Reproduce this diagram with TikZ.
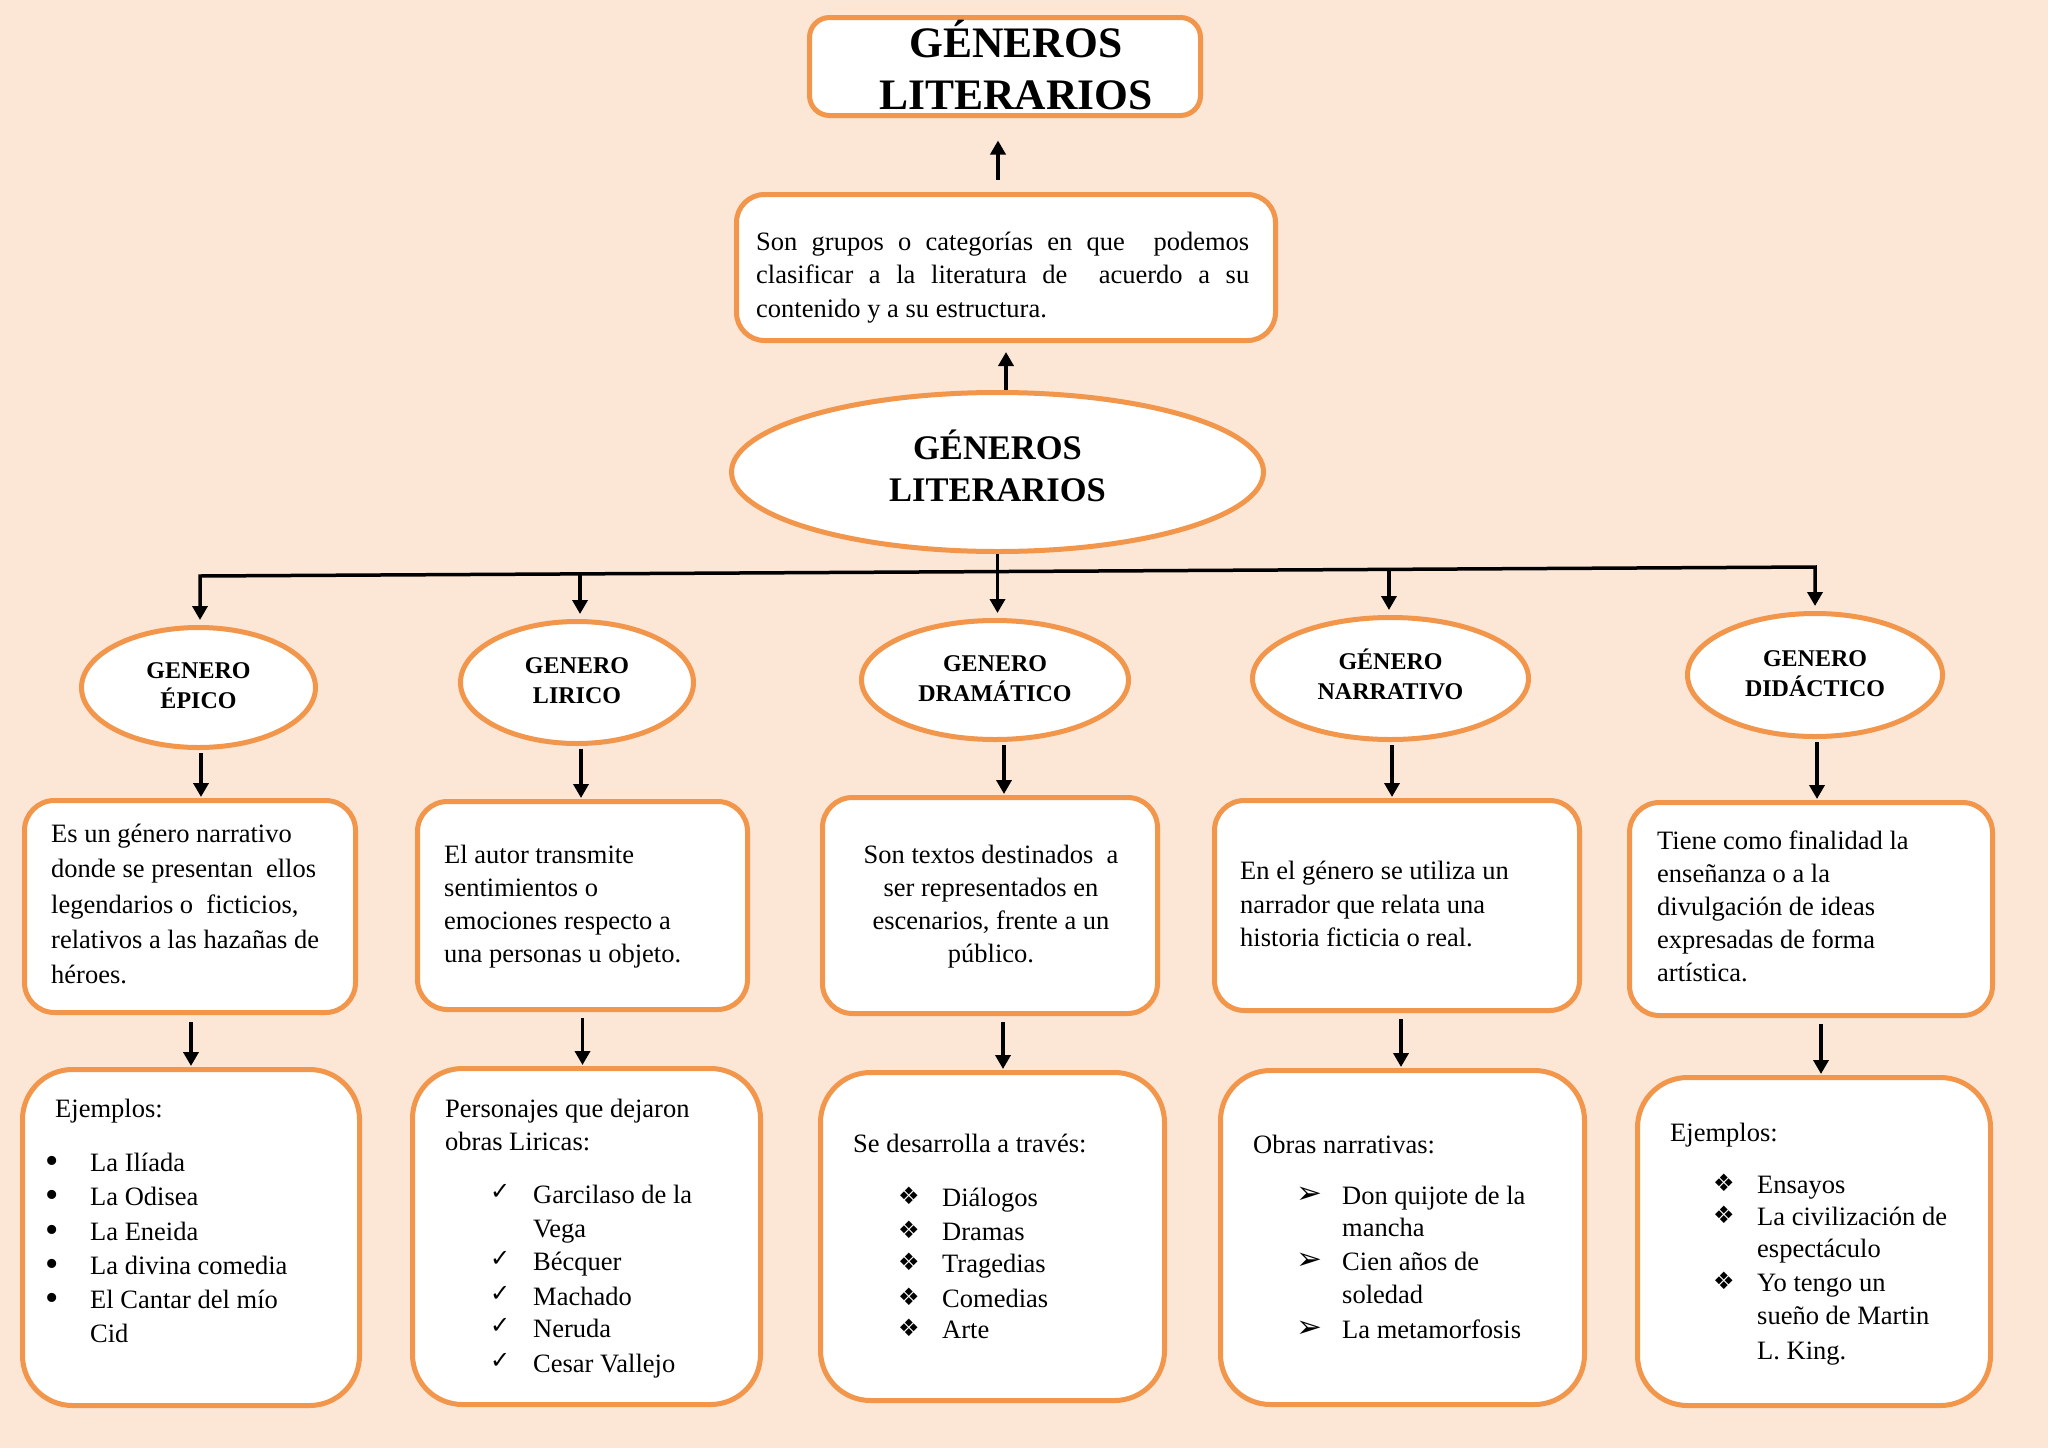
\documentclass[tikz,border=0pt]{standalone}
\usepackage{fontspec}
\setmainfont{Liberation Serif}
\newfontfamily\gsym{DejaVu Sans}
\usetikzlibrary{shapes.geometric,arrows.meta,calc}
\definecolor{bgc}{RGB}{252,230,214}
\definecolor{orng}{RGB}{241,150,75}
\begin{document}
\begin{tikzpicture}[x=1pt,y=-1pt,
  gshape/.style={draw=orng,line width=5pt,fill=white,inner sep=0pt},
  gtop/.style={gshape,rounded corners=20pt},
  gdesc/.style={gshape,rounded corners=30pt},
  gex/.style={gshape,rounded corners=50pt},
  goval/.style={gshape,ellipse,align=center,font=\fontsize{24}{30}\selectfont\bfseries},
  gbigoval/.style={gshape,ellipse,align=center,font=\fontsize{34.5}{42}\selectfont\bfseries},
  gtxt/.style={anchor=base west,inner sep=0pt,font=\fontsize{26.5}{33}\selectfont},
  gctxt/.style={gtxt,anchor=base},
  gttl/.style={anchor=base,inner sep=0pt,font=\fontsize{43.5}{52}\selectfont\bfseries},
  gbul/.style={anchor=base west,inner sep=0pt,font=\gsym\fontsize{24}{28}\selectfont},
  garrowbul/.style={anchor=base west,inner sep=0pt,font=\gsym\fontsize{31}{34}\selectfont},
  gdot/.style={anchor=base,inner sep=0pt,font=\fontsize{38}{40}\selectfont},
  gtip/.style={line width=3.5pt},
  garr/.style={gtip,-{Triangle[length=14pt,width=15pt]}},
]
\useasboundingbox (0,0) rectangle (2048,1448);
\fill[bgc] (0,0) rectangle (2048,1448);

% ---------- top ----------
\node[gtop,minimum width=391pt,minimum height=98pt] (top) at (1005,66.5) {};
\node[gttl] (top1) at (1016,57) {GÉNEROS};
\node[gttl] (top2) at (1016,109) {LITERARIOS};

\node[gdesc,rounded corners=28pt,minimum width=539pt,minimum height=146pt] (def) at (1006,267.5) {};
\node[gtxt] (def1) at (756,250) {\makebox[493pt][s]{Son grupos o categorías en que\ \ podemos}};
\node[gtxt] (def2) at (756,283) {\makebox[493pt][s]{clasificar a la literatura de\ \ acuerdo a su}};
\node[gtxt] (def3) at (756,317) {contenido y a su estructura.};

\node[gbigoval,minimum width=532pt,minimum height=159pt] (main) at (997.5,472) {\strut GÉNEROS\\\strut LITERARIOS};

% ---------- genre ellipses ----------
\node[goval,minimum width=234pt,minimum height=120pt] (ep) at (198.5,687.5) {\strut GENERO\\\strut ÉPICO};
\node[goval,minimum width=233pt,minimum height=122pt] (li) at (577,682.5) {\strut GENERO\\\strut LIRICO};
\node[goval,minimum width=267pt,minimum height=119pt] (dr) at (995,680) {\strut GENERO\\\strut DRAMÁTICO};
\node[goval,minimum width=276pt,minimum height=122pt] (na) at (1390.5,678.5) {\strut GÉNERO\\\strut NARRATIVO};
\node[goval,minimum width=255pt,minimum height=123pt] (di) at (1815,675) {\strut GENERO\\\strut DIDÁCTICO};

% ---------- description boxes ----------
\node[gdesc,minimum width=331pt,minimum height=212pt] (epd) at (190,906.5) {};
\node[gdesc,minimum width=330pt,minimum height=208pt] (lid) at (582.5,905.5) {};
\node[gdesc,minimum width=335pt,minimum height=216pt] (drd) at (990,905.5) {};
\node[gdesc,minimum width=365pt,minimum height=210pt] (nad) at (1397,905.5) {};
\node[gdesc,minimum width=363pt,minimum height=213pt] (did) at (1811,909) {};

\foreach \yy/\tx [count=\i] in {842/{Es un género narrativo}, 877/{donde se presentan\ \ ellos}, 913/{legendarios o\ \ ficticios,}, 948/{relativos a las hazañas de}, 983/{héroes.}}
  \node[gtxt] (epdt\i) at (51,\yy) {\tx};
\foreach \yy/\tx [count=\i] in {863/{El autor transmite}, 896/{sentimientos o}, 929/{emociones respecto a}, 962/{una personas u objeto.}}
  \node[gtxt] (lidt\i) at (444,\yy) {\tx};
\foreach \yy/\tx [count=\i] in {863/{Son textos destinados\ \ a}, 896/{ser representados en}, 929/{escenarios, frente a un}, 962/{público.}}
  \node[gctxt] (drdt\i) at (991,\yy) {\tx};
\foreach \yy/\tx [count=\i] in {879/{En el género se utiliza un}, 913/{narrador que relata una}, 946/{historia ficticia o real.}}
  \node[gtxt] (nadt\i) at (1240,\yy) {\tx};
\foreach \yy/\tx [count=\i] in {849/{Tiene como finalidad la}, 882/{enseñanza o a la}, 915/{divulgación de ideas}, 948/{expresadas de forma}, 981/{artística.}}
  \node[gtxt] (didt\i) at (1657,\yy) {\tx};

% ---------- example boxes ----------
\node[gex,minimum width=337pt,minimum height=336pt] (epx) at (191,1237.5) {};
\node[gex,minimum width=348pt,minimum height=336pt] (lix) at (586.5,1236.5) {};
\node[gex,minimum width=344pt,minimum height=328pt] (drx) at (992.5,1236.5) {};
\node[gex,minimum width=364pt,minimum height=334pt] (nax) at (1402.5,1237.5) {};
\node[gex,minimum width=353pt,minimum height=328pt] (dix) at (1814,1241.5) {};

% epico examples
\node[gtxt] (epxh) at (55,1117) {Ejemplos:};
\foreach \yy/\tx [count=\i] in {1171/{La Ilíada}, 1205/{La Odisea}, 1240/{La Eneida}, 1274/{La divina comedia}, 1308/{El Cantar del mío}, 1342/{Cid}}
  \node[gtxt] (epxt\i) at (90,\yy) {\tx};
\foreach \yy [count=\i] in {1171,1205,1240,1274,1308}
  \node[gdot] (epxb\i) at (52,\yy+2) {•};

% lirico examples
\node[gtxt] (lixh1) at (445,1117) {Personajes que dejaron};
\node[gtxt] (lixh2) at (445,1150) {obras Liricas:};
\foreach \yy/\tx [count=\i] in {1203/{Garcilaso de la}, 1237/{Vega}, 1270/{Bécquer}, 1305/{Machado}, 1337/{Neruda}, 1372/{Cesar Vallejo}}
  \node[gtxt] (lixt\i) at (533,\yy) {\tx};
\foreach \yy [count=\i] in {1203,1270,1305,1337,1372}
  \node[gbul] (lixb\i) at (490,\yy-4) {✓};

% dramatico examples
\node[gtxt] (drxh) at (853,1152) {Se desarrolla a través:};
\foreach \yy/\tx [count=\i] in {1206/{Diálogos}, 1240/{Dramas}, 1272/{Tragedias}, 1307/{Comedias}, 1338/{Arte}}
  \node[gtxt] (drxt\i) at (942,\yy) {\tx};
\foreach \yy [count=\i] in {1206,1240,1272,1307,1338}
  \node[gbul] (drxb\i) at (898,\yy-2) {❖};

% narrativo examples
\node[gtxt] (naxh) at (1253,1153) {Obras narrativas:};
\foreach \yy/\tx [count=\i] in {1204/{Don quijote de la}, 1236/{mancha}, 1270/{Cien años de}, 1303/{soledad}, 1338/{La metamorfosis}}
  \node[gtxt] (naxt\i) at (1342,\yy) {\tx};
\foreach \yy [count=\i] in {1204,1270,1338}
  \node[garrowbul] (naxb\i) at (1296,\yy-1) {➢};

% didactico examples
\node[gtxt] (dixh) at (1670,1141) {Ejemplos:};
\foreach \yy/\tx [count=\i] in {1193/{Ensayos}, 1225/{La civilización de}, 1257/{espectáculo}, 1291/{Yo tengo un}, 1324/{sueño de Martin}, 1359/{L. King.}}
  \node[gtxt] (dixt\i) at (1757,\yy) {\tx};
\foreach \yy [count=\i] in {1193,1225,1291}
  \node[gbul] (dixb\i) at (1713,\yy-2) {❖};

% ---------- connectors ----------
\draw[garr,shorten <=12.5pt,shorten >=22.5pt] ($(def.north)+(-8,0)$) -- ($(def.north |- top.south)+(-8,0)$);
\draw[garr,shorten >=9pt] (main.north -| def.south) -- (def.south);

\coordinate (bL) at (200,576);
\coordinate (bR) at (1815,567);
\coordinate (bLi) at ($(bL)!0.2353!(bR)$);
\coordinate (bNa) at ($(bL)!0.7362!(bR)$);
\draw[gtip,{Triangle[length=14pt,width=15pt]}-{Triangle[length=14pt,width=15pt]},shorten <=5pt,shorten >=5pt]
  (bL |- ep.north) -- (bL) -- (bR) -- (bR |- di.north);
\draw[garr,shorten >=5pt] (bLi) -- (bLi |- li.north);
\draw[garr,shorten >=5pt] (bNa) -- (bNa |- na.north);
\draw[garr,shorten >=5pt] (main.south) -- (main.south |- dr.north);

\newcommand\gdownarr[4]{\draw[garr,shorten <=#4,shorten >=1pt] ($(#1.south)+(#3,0)$) -- ($(#1.south |- #2.north)+(#3,0)$);}
\gdownarr{ep}{epd}{2.5}{3pt}
\gdownarr{li}{lid}{4}{3pt}
\gdownarr{dr}{drd}{9}{3pt}
\gdownarr{na}{nad}{1.5}{3pt}
\gdownarr{di}{did}{2}{3pt}
\gdownarr{epd}{epx}{1}{7pt}
\gdownarr{lid}{lix}{0}{6pt}
\gdownarr{drd}{drx}{13}{6pt}
\gdownarr{nad}{nax}{4}{6pt}
\gdownarr{did}{dix}{10}{6pt}
\end{tikzpicture}
\end{document}
